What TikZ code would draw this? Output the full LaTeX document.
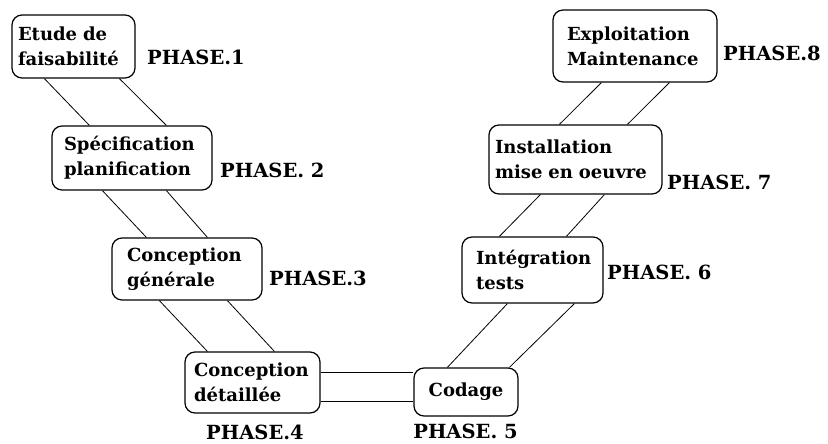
\documentclass[tikz,border=0pt]{standalone}
\usepackage{fontspec}
\setmainfont{DejaVu Serif}[BoldFont={DejaVu Serif Bold}]
\usetikzlibrary{calc}
\begin{document}
\begin{tikzpicture}[x=1pt,y=-1pt,
  phasebox/.style={draw, line width=1.2pt, rounded corners=10pt, align=left,
    font=\bfseries\fontsize{18}{25}\selectfont, inner ysep=0pt},
  phaselabel/.style={inner sep=0pt, font=\bfseries\fontsize{19.5}{22}\selectfont},
  link/.style={line width=0.8pt}]
\useasboundingbox (0,0) rectangle (828,444);
\node[phasebox, inner xsep=6pt, text width=111pt, minimum height=63pt] (b1) at (73.5,46.5) {Etude de\\faisabilité};
\node[phasebox, inner xsep=12pt, text width=136pt, minimum height=64pt] (b2) at (132,158) {Spécification\\planification};
\node[phasebox, inner xsep=15pt, text width=120pt, minimum height=62pt] (b3) at (187,269) {Conception\\générale};
\node[phasebox, inner xsep=9pt, text width=117pt, minimum height=61pt] (b4) at (252.5,382.5) {Conception\\détaillée};
\node[phasebox, align=center, inner xsep=0pt, text width=104pt, minimum height=48pt] (b5) at (466,392) {Codage};
\node[phasebox, inner xsep=14pt, text width=113pt, minimum height=66pt] (b6) at (532.5,270) {Intégration\\tests};
\node[phasebox, inner xsep=6pt, text width=161pt, minimum height=69pt] (b7) at (575.5,159.5) {Installation\\mise en oeuvre};
\node[phasebox, inner xsep=14pt, text width=136pt, minimum height=72pt] (b8) at (635,46) {Exploitation\\Maintenance};

\node[phaselabel, anchor=west] (p1) at (147,57) {PHASE.1};
\node[phaselabel, anchor=west] (p2) at (220,170) {PHASE. 2};
\node[phaselabel, anchor=west] (p3) at (269,278) {PHASE.3};
\node[phaselabel] (p4) at (255,432) {PHASE.4};
\node[phaselabel] (p5) at (465.5,431) {PHASE. 5};
\node[phaselabel, anchor=west] (p6) at (607,272) {PHASE. 6};
\node[phaselabel, anchor=west] (p7) at (667,182) {PHASE. 7};
\node[phaselabel, anchor=west] (p8) at (723,53) {PHASE.8};

\draw[link] ($(b1.south west)+(33,0)$) -- ($(b2.north west)+(38,0)$);
\draw[link] ($(b1.south west)+(108,0)$) -- ($(b2.north west)+(115,0)$);
\draw[link] ($(b2.south west)+(51,0)$) -- ($(b3.north west)+(35,0)$);
\draw[link] ($(b2.south west)+(115,0)$) -- ($(b3.north west)+(96,0)$);
\draw[link] ($(b3.south west)+(48,0)$) -- ($(b4.north west)+(23,0)$);
\draw[link] ($(b3.south west)+(116,0)$) -- ($(b4.north west)+(90,0)$);
\draw[link] ($(b4.north east)+(0,21)$) -- ($(b5.north west)+(0,5)$);
\draw[link] ($(b4.south east)+(0,-12)$) -- ($(b5.south west)+(0,-15)$);
\draw[link] ($(b5.north west)+(34,0)$) -- ($(b6.south west)+(46,0)$);
\draw[link] ($(b5.north west)+(96,0)$) -- ($(b6.south west)+(113,0)$);
\draw[link] ($(b6.north west)+(38,0)$) -- ($(b7.south west)+(52,0)$);
\draw[link] ($(b6.north west)+(105,0)$) -- ($(b7.south west)+(116,0)$);
\draw[link] ($(b7.north west)+(71,0)$) -- ($(b8.south west)+(49,0)$);
\draw[link] ($(b7.north west)+(139,0)$) -- ($(b8.south west)+(117,0)$);
\end{tikzpicture}
\end{document}
